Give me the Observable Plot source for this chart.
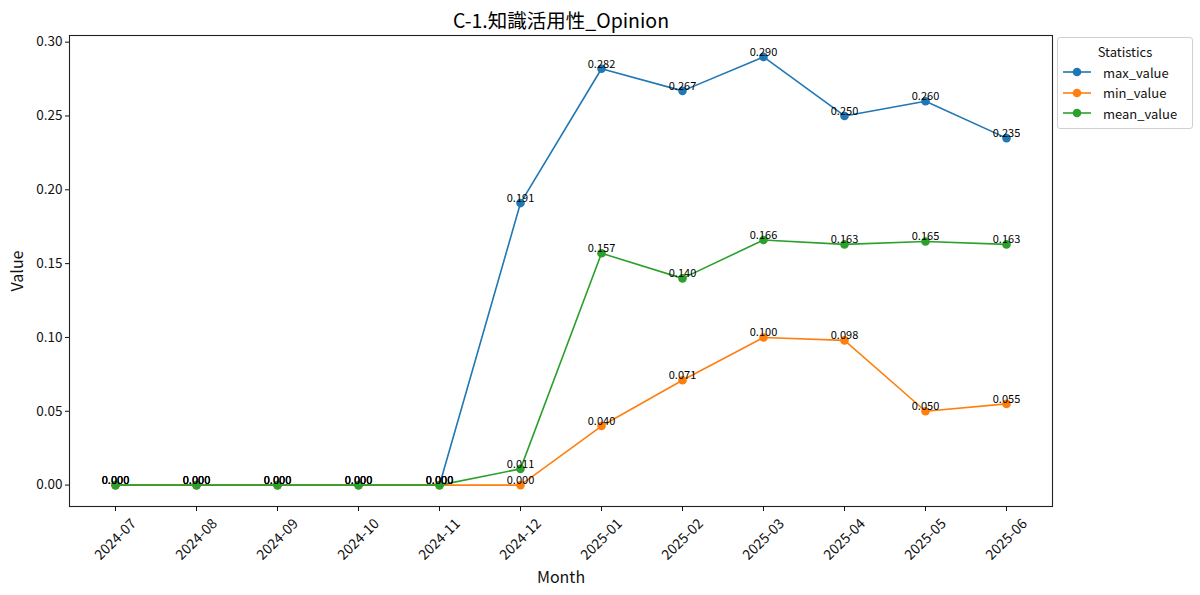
<!DOCTYPE html>
<html>
<head>
<meta charset="utf-8">
<script src="https://cdn.jsdelivr.net/npm/d3@7"></script>
<script src="https://cdn.jsdelivr.net/npm/@observablehq/plot@0.6"></script>
<style>
  html, body { margin: 0; padding: 0; background: #fff; }
  body { width: 1200px; height: 595px; position: relative; overflow: hidden; font-family: "Noto Sans CJK JP", "Noto Sans", sans-serif; }
  #legend { position: absolute; left: 1057px; top: 37px; width: 134px; border: 1px solid #d0d0d0; border-radius: 3px; background: #fff; font-size: 13px; color: #111; padding: 4px 0 4px 0; }
  #legend .title { text-align: center; margin-bottom: 1px; }
  #legend .row { display: flex; align-items: center; height: 20.5px; padding-left: 5px; }
  #legend svg { margin-right: 12px; }
</style>
</head>
<body>
<div id="chart"></div>
<div id="legend"></div>
<script>
const months = ["2024-07","2024-08","2024-09","2024-10","2024-11","2024-12","2025-01","2025-02","2025-03","2025-04","2025-05","2025-06"];
const maxValue  = [0,0,0,0,0,0.191,0.282,0.267,0.290,0.250,0.260,0.235];
const minValue  = [0,0,0,0,0,0.000,0.040,0.071,0.100,0.098,0.050,0.055];
const meanValue = [0,0,0,0,0,0.011,0.157,0.140,0.166,0.163,0.165,0.163];
const seriesNames = ["max_value","min_value","mean_value"];
const seriesColors = ["#1f77b4","#ff7f0e","#2ca02c"];
const yTicks = [0,0.05,0.10,0.15,0.20,0.25,0.30];
const title = "C-1.知識活用性_Opinion";

const seriesValues = [maxValue, minValue, meanValue];
const rows = seriesNames.flatMap((s, si) => months.map((m, i) => ({series: s, month: m, value: seriesValues[si][i]})));

const font = "Noto Sans CJK JP";
const marks = [];
seriesNames.forEach((s, si) => {
  const d = rows.filter(r => r.series === s);
  marks.push(Plot.line(d, {x: "month", y: "value", stroke: seriesColors[si], strokeWidth: 1.6}));
  marks.push(Plot.dot(d, {x: "month", y: "value", fill: seriesColors[si], r: 4.3, stroke: "none"}));
});
seriesNames.forEach((s, si) => {
  const d = rows.filter(r => r.series === s);
  marks.push(Plot.text(d, {x: "month", y: "value", text: r => r.value.toFixed(3), lineAnchor: "bottom", dy: -1, fontSize: 11, fill: "#000", fontFamily: font}));
});

const chart = Plot.plot({
  width: 1200,
  height: 595,
  marginLeft: 69,
  marginRight: 148,
  marginTop: 35,
  marginBottom: 89,
  style: {fontFamily: font, fontSize: "13px", color: "#111", background: "#fff"},
  x: {type: "point", domain: months, padding: 0.55},
  y: {domain: [-0.0145, 0.3045]},
  marks: [
    Plot.frame({stroke: "#222", strokeWidth: 1.1}),
    Plot.axisY({ticks: yTicks, tickFormat: d3.format(".2f"), tickSize: 4, tickPadding: 3, fontSize: 13.5,
      label: "Value", labelAnchor: "center", labelArrow: "none", labelOffset: 58}),
    Plot.axisX({tickSize: 5, tickFormat: () => "", fontSize: 13,
      label: "Month", labelAnchor: "center", labelArrow: "none", labelOffset: 76}),
    Plot.text(months, {x: d => d, frameAnchor: "bottom", rotate: -45, textAnchor: "middle", lineAnchor: "middle", dy: 33, fontSize: 14, fill: "#111", fontFamily: font}),
    ...marks,
    Plot.text([title], {frameAnchor: "top", dy: -21, fontSize: 19.5, fill: "#000", fontFamily: font})
  ]
});
document.getElementById("chart").appendChild(chart);
chart.querySelectorAll("[aria-label='y-axis label'] text, [aria-label='x-axis label'] text").forEach(t => t.setAttribute("font-size", "16"));

const legend = document.getElementById("legend");
let html = '<div class="title">Statistics</div>';
seriesNames.forEach((s, i) => {
  html += `<div class="row"><svg width="28" height="12"><line x1="0" x2="28" y1="6" y2="6" stroke="${seriesColors[i]}" stroke-width="1.6"/><circle cx="14" cy="6" r="4.3" fill="${seriesColors[i]}"/></svg><span>${s}</span></div>`;
});
legend.innerHTML = html;
</script>
</body>
</html>
